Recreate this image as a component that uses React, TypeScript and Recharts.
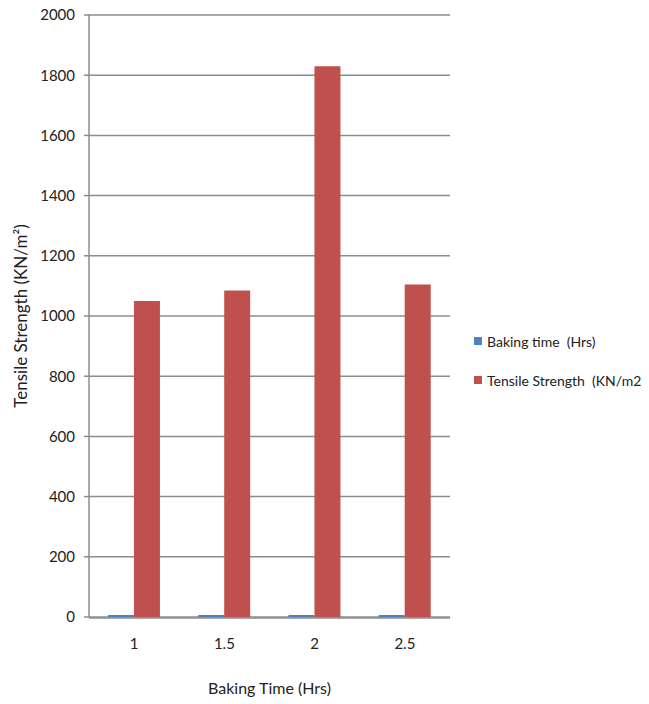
import React from "react";
import {
  BarChart,
  Bar,
  XAxis,
  YAxis,
  CartesianGrid,
  Legend,
} from "recharts";

// Baking duration categories (hours)
const bakingTimes = ["1", "1.5", "2", "2.5"];
// First series repeats the baking time itself
const bakingTimeValues = [1, 1.5, 2, 2.5];
// Measured tensile strength per baking time (KN/m²)
const tensileStrength = [1050, 1085, 1830, 1105];
const yTicks = [0, 200, 400, 600, 800, 1000, 1200, 1400, 1600, 1800, 2000];
const edgeTicks = [0, 1, 2, 3, 4];

const data = bakingTimes.map((t, i) => ({
  time: t,
  baking: bakingTimeValues[i],
  strength: tensileStrength[i],
}));

const FONT = "Lato, 'Open Sans', sans-serif";
const GRID = "#8c8c8c";
const BLUE = "#4F81BD";
const RED = "#C0504D";

const LegendContent = (props: any) => {
  const { payload = [] } = props;
  return (
    <div style={{ fontFamily: FONT, fontSize: 14, color: "#222" }}>
      {payload.map((p: any, i: number) => (
        <div
          key={i}
          style={{ display: "flex", alignItems: "center", height: 20, marginBottom: i === 0 ? 19 : 0 }}
        >
          <span
            style={{
              display: "inline-block",
              width: 8,
              height: 8,
              background: p.color,
              marginRight: 5,
            }}
          />
          <span style={{ whiteSpace: "pre" }}>{p.value}</span>
        </div>
      ))}
    </div>
  );
};

const YTitle = (props: any) => {
  const vb = props.viewBox || {};
  const cy = (vb.y || 0) + (vb.height || 0) / 2;
  const cx = 20;
  return (
    <text
      x={cx}
      y={cy}
      transform={`rotate(-90 ${cx} ${cy})`}
      textAnchor="middle"
      dominantBaseline="central"
      fontFamily={FONT}
      fontSize={17}
      fill="#222"
    >
      Tensile Strength (KN/m²)
    </text>
  );
};

export default function App() {
  return (
    <div style={{ position: "absolute", left: 0, top: 0, background: "#fff" }}>
      <BarChart
        width={649}
        height={704}
        data={data}
        margin={{ top: 15, right: 199, left: 0, bottom: 85 }}
        barCategoryGap="21%"
        barGap={0}
      >
        <CartesianGrid horizontal vertical={false} stroke={GRID} strokeWidth={1.5} />
        <XAxis
          xAxisId="edges"
          type="number"
          domain={[0, 4]}
          ticks={edgeTicks}
          tick={false}
          tickSize={8}
          height={1}
          axisLine={{ stroke: GRID, strokeWidth: 1.5 }}
          tickLine={{ stroke: GRID, strokeWidth: 1.5 }}
        />
        <XAxis
          xAxisId="cat"
          dataKey="time"
          height={1}
          axisLine={false}
          tickLine={false}
          tickSize={8}
          tickMargin={13}
          tick={{ fontFamily: FONT, fontSize: 15, fill: "#222" }}
          label={{
            value: "Baking Time (Hrs)",
            position: "bottom",
            offset: 65,
            fontFamily: FONT,
            fontSize: 16,
            fill: "#222",
          }}
        />
        <YAxis
          width={89}
          domain={[0, 2000]}
          ticks={yTicks}
          interval={0}
          tickSize={5}
          tickMargin={9}
          axisLine={{ stroke: GRID, strokeWidth: 1.5 }}
          tickLine={{ stroke: GRID, strokeWidth: 1.5 }}
          tick={{ fontFamily: FONT, fontSize: 15, fill: "#222" }}
          label={<YTitle />}
        />
        <Legend
          layout="horizontal"
          verticalAlign="middle"
          align="center"
          content={<LegendContent />}
          wrapperStyle={{ left: 474, top: 331, width: 175, height: 80 }}
        />
        <Bar
          xAxisId="cat"
          dataKey="baking"
          name="Baking time  (Hrs)"
          fill={BLUE}
          minPointSize={2}
          isAnimationActive={false}
        />
        <Bar
          xAxisId="cat"
          dataKey="strength"
          name="Tensile Strength  (KN/m2"
          fill={RED}
          isAnimationActive={false}
        />
      </BarChart>
    </div>
  );
}
